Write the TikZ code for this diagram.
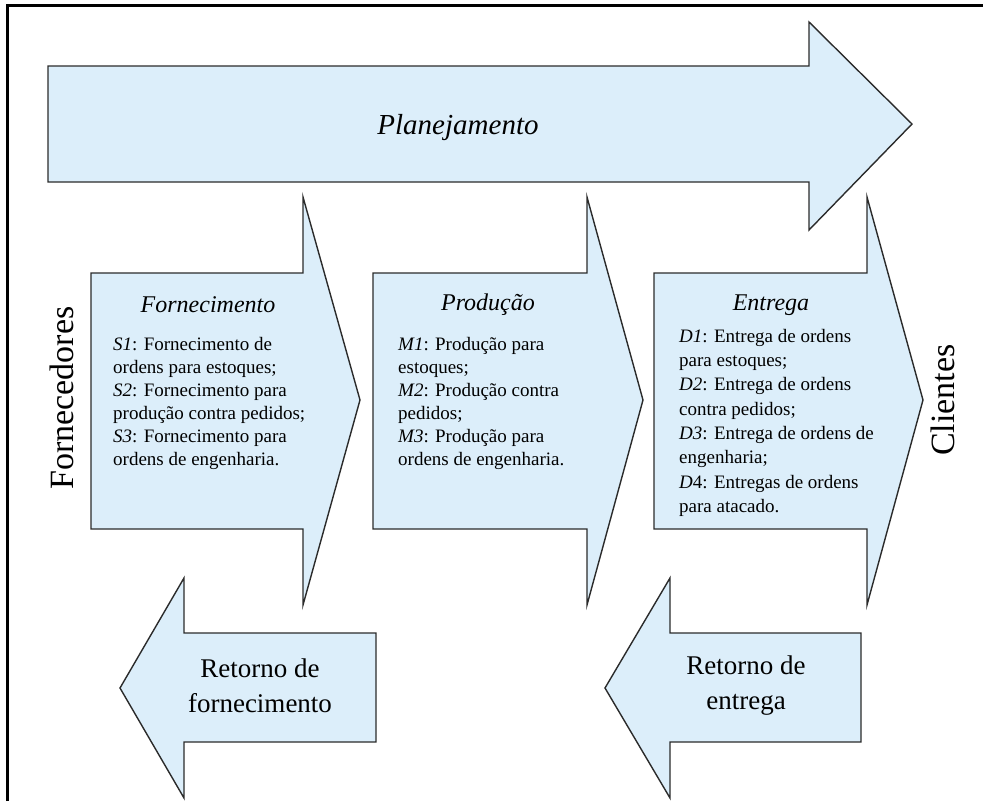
\documentclass[tikz,border=0pt]{standalone}
\usepackage{fontspec}
\setmainfont{Liberation Serif}
\usetikzlibrary{positioning}
\definecolor{scfill}{HTML}{DCEEFA}
\definecolor{scline}{HTML}{2B2B2B}

\begin{document}
\begin{tikzpicture}[
  x=1pt, y=-1pt,
  blockarrow/.style={fill=scfill, draw=scline, line width=1.4pt, line join=miter},
  stagetitle/.style={font=\fontsize{24}{28}\selectfont\itshape, inner sep=0pt},
  stagetext/.style={font=\fontsize{19}{#1}\selectfont, align=left, anchor=north west, inner sep=0pt},
  stagetext/.default=23,
  sidelabel/.style={font=\fontsize{34}{40}\selectfont, rotate=90, inner sep=0pt},
  backtext/.style={font=\fontsize{27}{35}\selectfont, align=center, inner sep=0pt},
]
\useasboundingbox (0,0) rectangle (983,801);

% frame
\draw[line width=3pt] (7,801) -- (7,5) -- (983,5);

% planning
\draw[blockarrow] (48,66) -- (809,66) -- (809,22) -- (912,124) -- (809,230) -- (809,182) -- (48,182) -- cycle;
\node[font=\fontsize{29}{34}\selectfont\itshape, inner sep=0pt] (plan) at (458,128) {Planejamento};

% stages
\draw[blockarrow] (91,273) -- (303,273) -- (303,197) -- (360,400) -- (303,605) -- (303,529) -- (91,529) -- cycle;
\draw[blockarrow] (373,273) -- (587,273) -- (587,197) -- (643,400) -- (587,605) -- (587,529) -- (373,529) -- cycle;
\draw[blockarrow] (654,273) -- (867,273) -- (867,197) -- (923,400) -- (867,605) -- (867,529) -- (654,529) -- cycle;

\node[stagetitle] (sourcetitle) at (208,305) {Fornecimento};
\node[stagetitle] (maketitle) at (488,305) {Produção};
\node[stagetitle] (delivertitle) at (771,305) {Entrega};

\node[stagetext] (source) at (113,337) {\textit{S1}: Fornecimento de\\ordens para estoques;\\\textit{S2}: Fornecimento para\\produção contra pedidos;\\\textit{S3}: Fornecimento para\\ordens de engenharia.};
\node[stagetext] (make) at (398,337) {\textit{M1}: Produção para\\estoques;\\\textit{M2}: Produção contra\\pedidos;\\\textit{M3}: Produção para\\ordens de engenharia.};
\node[stagetext=24.3] (deliver) at (679,329) {\textit{D1}: Entrega de ordens\\para estoques;\\\textit{D2}: Entrega de ordens\\contra pedidos;\\\textit{D3}: Entrega de ordens de\\engenharia;\\\textit{D}4: Entregas de ordens\\para atacado.};

\node[sidelabel] (suppliers) at (62,398) {Fornecedores};
\node[sidelabel] (customers) at (943,400) {Clientes};

% returns
\draw[blockarrow] (376,633) -- (184,633) -- (184,578) -- (120,688) -- (184,798) -- (184,742) -- (376,742) -- cycle;
\draw[blockarrow] (861,633) -- (670,633) -- (670,578) -- (605,688) -- (670,798) -- (670,742) -- (861,742) -- cycle;

\node[backtext] (sourceback) at (260,686) {Retorno de\\fornecimento};
\node[backtext] (deliverback) at (746,686) {Retorno de\\entrega};

\end{tikzpicture}
\end{document}
